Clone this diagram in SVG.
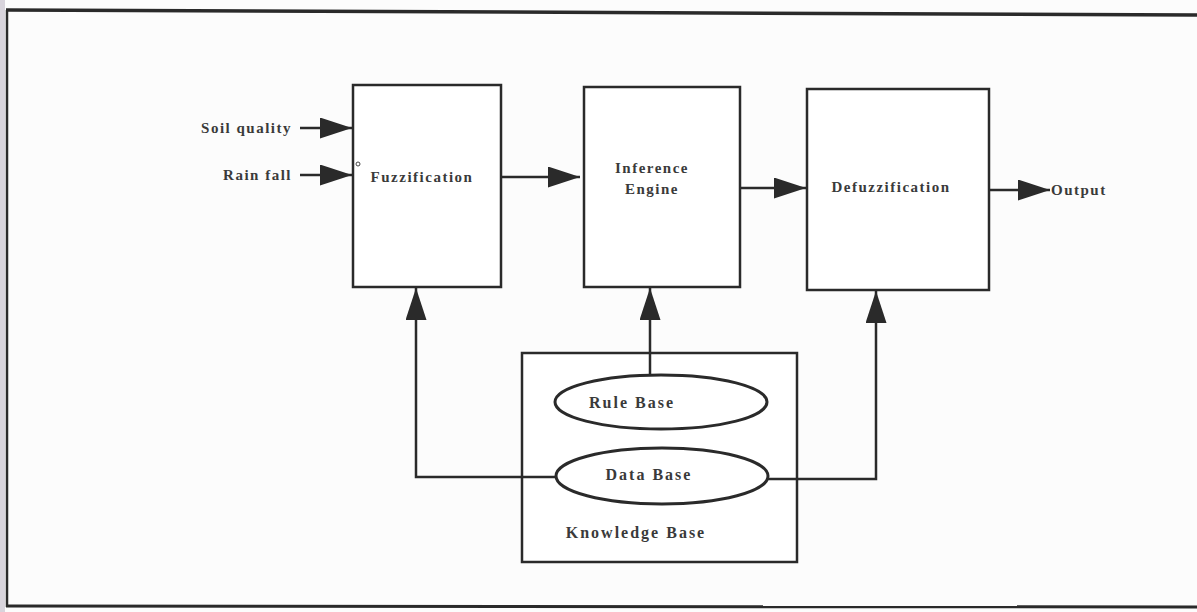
<svg xmlns="http://www.w3.org/2000/svg" width="1197" height="612" viewBox="0 0 1197 612">
<defs>
<marker id="ah" viewBox="0 0 10 10" refX="10" refY="5" markerWidth="32" markerHeight="21" markerUnits="userSpaceOnUse" orient="auto" preserveAspectRatio="none">
<path d="M0,0 L10,5 L0,10 Z" fill="#2a2a2a"/>
</marker>
<style>
.box{fill:#fff;stroke:#2a2a2a;stroke-width:2.5}
.ell{fill:#fff;stroke:#2a2a2a;stroke-width:3}
.ln{fill:none;stroke:#2a2a2a;stroke-width:2.5}
.t{font-family:"Liberation Serif",serif;font-weight:bold;font-size:15px;letter-spacing:1.5px;fill:#3a3a3a}
.tb{font-size:16px;letter-spacing:2px}
</style>
</defs>
<rect x="0" y="0" width="1197" height="612" fill="#fcfcfc"/>
<rect x="0" y="0" width="5" height="612" fill="#d8d4dc"/>
<g id="frame" fill="none" stroke="#2a2a2a">
<path d="M6,10 L1197,15" stroke-width="3.5"/>
<path d="M7,10 L7,607" stroke-width="2.5"/>
<path d="M6,606 L1197,607" stroke-width="3"/>
</g>
<g id="knowledge">
<rect class="box" x="522" y="353" width="275" height="209"/>
<text class="t tb" x="636" y="538" text-anchor="middle">Knowledge Base</text>
</g>
<g id="connectors">
<path class="ln" d="M300,128 L352,128" marker-end="url(#ah)"/>
<path class="ln" d="M300,175 L352,175" marker-end="url(#ah)"/>
<path class="ln" d="M501,177 L580,177" marker-end="url(#ah)"/>
<path class="ln" d="M740,188 L806,188" marker-end="url(#ah)"/>
<path class="ln" d="M989,190 L1050,190" marker-end="url(#ah)"/>
<path class="ln" d="M556,477 L416,477 L416,288" marker-end="url(#ah)"/>
<path class="ln" d="M650,376 L650,288" marker-end="url(#ah)"/>
<path class="ln" d="M768,479 L876,479 L876,291" marker-end="url(#ah)"/>
</g>
<g id="fuzzification">
<rect class="box" x="353" y="85" width="148" height="202"/>
<circle cx="358" cy="164" r="2" fill="none" stroke="#444" stroke-width="1"/>
<text class="t" x="422" y="182" text-anchor="middle">Fuzzification</text>
</g>
<g id="inference">
<rect class="box" x="584" y="87" width="156" height="200"/>
<text class="t" x="652" y="173" text-anchor="middle">Inference</text>
<text class="t" x="652" y="194" text-anchor="middle">Engine</text>
</g>
<g id="defuzzification">
<rect class="box" x="807" y="89" width="182" height="201"/>
<text class="t" x="891" y="192" text-anchor="middle">Defuzzification</text>
</g>
<g id="rulebase">
<ellipse class="ell" cx="661" cy="402" rx="106" ry="27"/>
<text class="t tb" x="632" y="408" text-anchor="middle">Rule Base</text>
</g>
<g id="database">
<ellipse class="ell" cx="662" cy="476" rx="106" ry="28"/>
<text class="t tb" x="649" y="480" text-anchor="middle">Data Base</text>
</g>
<g id="inputs">
<text class="t" x="292" y="133" text-anchor="end">Soil quality</text>
<text class="t" x="292" y="180" text-anchor="end">Rain fall</text>
</g>
<g id="output">
<text class="t" x="1051" y="195">Output</text>
</g>
</svg>
